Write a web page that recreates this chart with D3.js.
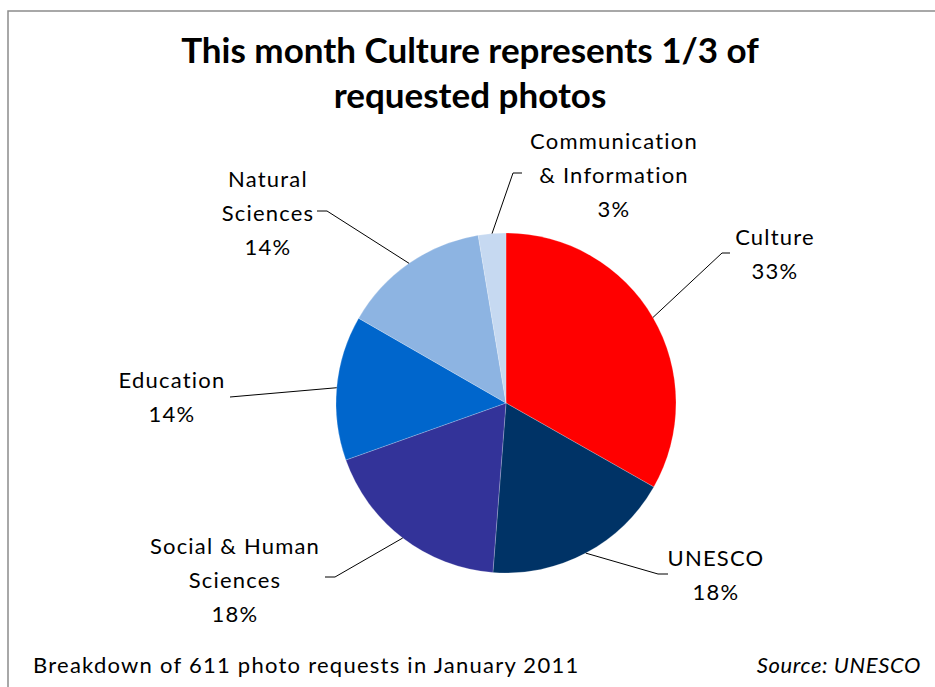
<!DOCTYPE html>
<html>
<head>
<meta charset="utf-8">
<script src="https://cdn.jsdelivr.net/npm/d3@7"></script>
<style>
  html, body { margin: 0; padding: 0; background: #fff; }
  svg { display: block; }
</style>
</head>
<body>
<svg id="chart" width="935" height="687"></svg>
<script>
// ---- data ----
const categories = ["Culture", "UNESCO", "Social & Human Sciences", "Education", "Natural Sciences", "Communication & Information"];
const requests = [203, 110, 112, 84, 86, 16];   // photo requests, total 611
const colors = ["#FF0000", "#003366", "#333399", "#0066CC", "#8DB4E2", "#C6D9F1"];
const labelLines = [["Culture"], ["UNESCO"], ["Social & Human", "Sciences"], ["Education"], ["Natural", "Sciences"], ["Communication", "& Information"]];
const titleLines = ["This month Culture represents 1/3 of", "requested photos"];
const footnote = "Breakdown of 611 photo requests in January 2011";
const sourceNote = "Source: UNESCO";

// ---- layout (label placement, not data) ----
const labelLayout = [
  { cx: 775, y: 245, elbow: [722, 253], end: [730, 253] },
  { cx: 716, y: 566, elbow: [658, 574], end: [668, 574] },
  { cx: 235, y: 554, elbow: [335, 577], end: [325, 577] },
  { cx: 172, y: 388, elbow: null,       end: [230, 397] },
  { cx: 268, y: 187, elbow: [327, 211], end: [317, 211] },
  { cx: 614, y: 149, elbow: [513, 173], end: [522, 173] }
];

const svg = d3.select("#chart");
const W = 935, H = 687;
const cx = 506, cy = 403, R = 170;
const lineH = 34;

// border
svg.append("rect")
  .attr("x", 8).attr("y", 11)
  .attr("width", W + 20).attr("height", H + 20)
  .attr("fill", "none").attr("stroke", "#8c8c8c").attr("stroke-width", 1.5);

// title
svg.append("text")
  .attr("x", 470).attr("y", 63)
  .attr("text-anchor", "middle")
  .attr("font-family", "Lato, 'Open Sans', sans-serif")
  .attr("font-weight", "bold")
  .attr("font-size", 35)
  .selectAll("tspan").data(titleLines).join("tspan")
  .attr("x", 470).attr("dy", (d, i) => i === 0 ? 0 : 45)
  .text(d => d);

const total = d3.sum(requests);
const pie = d3.pie().sort(null).value(d => d)(requests);
const arc = d3.arc().innerRadius(0).outerRadius(R);

const g = svg.append("g").attr("transform", `translate(${cx},${cy})`);
g.selectAll("path").data(pie).join("path")
  .attr("d", arc)
  .attr("fill", (d, i) => colors[i])
  .attr("stroke", "#ffffff")
  .attr("stroke-opacity", 0.35)
  .attr("stroke-width", 0.6);

// leader lines
const leaders = svg.append("g");
pie.forEach((d, i) => {
  const mid = (d.startAngle + d.endAngle) / 2;
  const p0 = [cx + R * Math.sin(mid), cy - R * Math.cos(mid)];
  const L = labelLayout[i];
  const pts = [p0];
  if (L.elbow) pts.push(L.elbow);
  pts.push(L.end);
  leaders.append("path")
    .attr("d", d3.line()(pts))
    .attr("fill", "none")
    .attr("stroke", "#000")
    .attr("stroke-width", 1);
});

// labels
const fmt = v => Math.round(v / total * 100) + "%";
const labels = svg.append("g")
  .attr("font-family", "Lato, 'Open Sans', sans-serif")
  .attr("font-size", 22)
  .attr("letter-spacing", 1.2)
  .attr("fill", "#000")
  .attr("text-anchor", "middle");
pie.forEach((d, i) => {
  const L = labelLayout[i];
  const lines = labelLines[i].concat([fmt(d.value)]);
  const t = labels.append("text").attr("x", L.cx).attr("y", L.y);
  t.selectAll("tspan").data(lines).join("tspan")
    .attr("x", L.cx).attr("dy", (s, k) => k === 0 ? 0 : lineH)
    .text(s => s);
});

// footer
svg.append("text")
  .attr("x", 33).attr("y", 673)
  .attr("font-family", "Lato, 'Open Sans', sans-serif")
  .attr("font-size", 22).attr("letter-spacing", 1.25)
  .text(footnote);
svg.append("text")
  .attr("x", 921).attr("y", 673)
  .attr("text-anchor", "end")
  .attr("font-family", "Lato, 'Open Sans', sans-serif")
  .attr("font-style", "italic")
  .attr("font-size", 22).attr("letter-spacing", 0.6)
  .text(sourceNote);
</script>
</body>
</html>
